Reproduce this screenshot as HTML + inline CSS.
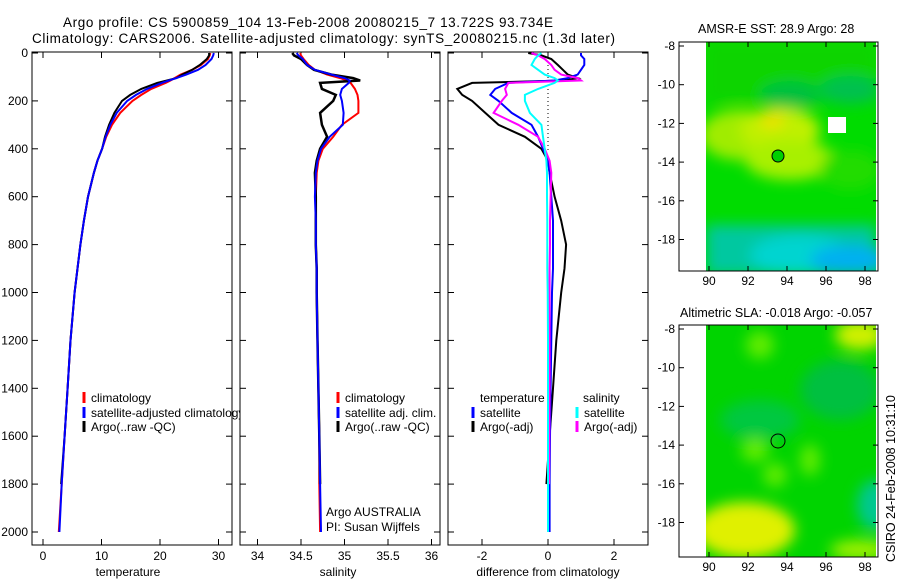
<!DOCTYPE html>
<html><head><meta charset="utf-8">
<style>
body{margin:0;background:#fff;}
svg{display:block;font-family:"Liberation Sans",sans-serif;}
text{fill:#000;}
</style></head>
<body>
<svg id="fig" width="900" height="580" viewBox="0 0 900 580" xmlns="http://www.w3.org/2000/svg">
<defs>
<filter id="bl" x="-20%" y="-20%" width="140%" height="140%"><feGaussianBlur stdDeviation="7"/></filter>
<clipPath id="m1c"><rect x="706" y="42" width="170" height="229"/></clipPath>
<clipPath id="m2c"><rect x="706" y="325" width="170" height="232"/></clipPath>
<clipPath id="p1c"><rect x="32" y="52" width="208" height="493"/></clipPath>
</defs>
<text x="63" y="27" font-size="13.5" textLength="490">Argo profile: CS 5900859_104 13-Feb-2008 20080215_7 13.722S 93.734E</text>
<text x="32" y="43" font-size="13.5" textLength="583">Climatology: CARS2006. Satellite-adjusted climatology: synTS_20080215.nc (1.3d later)</text>

<!-- map 1 -->
<g>
<text x="698" y="33" font-size="12.5">AMSR-E SST: 28.9 Argo: 28</text>
<g clip-path="url(#m1c)">
<rect x="706" y="42" width="170" height="229" fill="#00dc00"/>
<g filter="url(#bl)">
<rect x="706" y="42" width="170" height="60" fill="#10d400"/>
<ellipse cx="790" cy="95" rx="30" ry="14" fill="#00c040"/>
<ellipse cx="850" cy="90" rx="30" ry="14" fill="#00c050"/>
<ellipse cx="740" cy="135" rx="40" ry="25" fill="#a0ec00"/>
<ellipse cx="780" cy="130" rx="40" ry="22" fill="#c0f000"/>
<ellipse cx="772" cy="120" rx="12" ry="8" fill="#f0e000"/>
<ellipse cx="790" cy="160" rx="45" ry="20" fill="#a8f000"/>
<ellipse cx="850" cy="170" rx="30" ry="20" fill="#20dc00"/>
<rect x="706" y="225" width="170" height="50" fill="#00c8a0"/>
<ellipse cx="800" cy="255" rx="50" ry="20" fill="#00d4d0"/>
<ellipse cx="850" cy="260" rx="40" ry="15" fill="#00b0f0"/>
</g>
<rect x="828" y="117" width="18" height="16" fill="#fff"/>
<circle cx="778" cy="156" r="6" fill="#00d000" stroke="#000"/>
</g>
<rect x="679" y="42" width="199" height="229" fill="none" stroke="#000"/>
</g>

<!-- map 2 -->
<g>
<text x="680" y="317" font-size="12.5">Altimetric SLA: -0.018 Argo: -0.057</text>
<g clip-path="url(#m2c)">
<rect x="706" y="325" width="170" height="232" fill="#00d400"/>
<g filter="url(#bl)">
<ellipse cx="760" cy="345" rx="14" ry="14" fill="#60ec00"/>
<ellipse cx="860" cy="335" rx="25" ry="15" fill="#d0f000"/>
<ellipse cx="840" cy="390" rx="40" ry="30" fill="#00c040"/>
<ellipse cx="760" cy="420" rx="40" ry="20" fill="#00c840"/>
<ellipse cx="755" cy="450" rx="14" ry="12" fill="#60ec00"/>
<ellipse cx="775" cy="475" rx="12" ry="12" fill="#60ec00"/>
<ellipse cx="810" cy="460" rx="10" ry="16" fill="#60ec00"/>
<ellipse cx="875" cy="505" rx="18" ry="25" fill="#00c890"/>
<ellipse cx="745" cy="530" rx="50" ry="28" fill="#e0f000"/>
<ellipse cx="860" cy="550" rx="30" ry="10" fill="#a0f000"/>
</g>
<circle cx="778" cy="441" r="7" fill="none" stroke="#000"/>
</g>
<rect x="679" y="325" width="199" height="232" fill="none" stroke="#000"/>
</g>

<text transform="translate(895,562) rotate(-90)" font-size="12.5">CSIRO 24-Feb-2008 10:31:10</text>
<g id="axes"></g>
</svg>
<script>
const depths=[0,10,25,50,70,90,105,115,125,150,175,200,250,300,350,400,450,500,600,700,800,900,1000,1200,1400,1600,1800,2000];
const tempClim=[28.6,28.5,28.2,27,25.5,23.5,22.5,21.8,21,18.5,16.8,15.3,13.2,11.8,10.8,10.1,9.3,8.7,7.7,7,6.4,5.9,5.4,4.7,4.2,3.7,3.2,2.7];
const tempSat=[29.2,29.1,28.8,27.8,26.5,24.5,22.8,21.5,20.3,17.8,15.9,14.4,12.6,11.5,10.7,10.1,9.3,8.7,7.7,7,6.4,5.9,5.4,4.7,4.2,3.7,3.2,2.8];
const tempArgo=[28.4,28.4,28,26.8,25.5,23.8,22.8,21.2,19.5,16.8,14.9,13.5,12.2,11.3,10.6,10.1,9.3,8.7,7.7,7,6.4,5.9,5.4,4.7,4.2,3.7,3.1,2.8];
const salClim=[34.49,34.5,34.53,34.59,34.66,34.8,34.95,35.03,35.07,35.12,35.15,35.16,35.16,34.97,34.87,34.75,34.7,34.68,34.67,34.67,34.67,34.68,34.68,34.69,34.7,34.71,34.71,34.72];
const salSat=[34.45,34.47,34.52,34.57,34.66,34.85,35.0,35.06,35.05,34.97,34.95,34.97,34.99,34.98,34.83,34.73,34.69,34.67,34.66,34.67,34.67,34.68,34.68,34.69,34.7,34.71,34.72,34.73];
const salArgo=[34.40,34.42,34.5,34.57,34.65,34.85,35.1,35.18,34.72,34.74,34.9,34.87,34.72,34.74,34.8,34.72,34.68,34.66,34.67,34.67,34.67,34.68,34.68,34.69,34.7,34.71,34.72,34.72];
const dTempArgo=[-0.6,-0.2,0.1,0.3,0.45,0.6,0.9,0.5,-2.3,-2.75,-2.6,-2.3,-1.9,-1.5,-0.7,-0.2,0,0.05,0.2,0.4,0.55,0.5,0.4,0.25,0.15,0.05,-0.05,-0.05];
const dTempSat=[1.0,1.0,1.1,1.1,1.0,0.9,0.6,0.2,-1.2,-1.6,-1.75,-1.5,-1.1,-0.5,-0.3,-0.15,0,0.05,0.1,0.15,0.15,0.15,0.12,0.1,0.08,0.06,0.05,0.05];
const dSalArgo=[-0.5,-0.3,-0.1,0.1,0.2,0.4,0.9,1.0,-1.2,-1.3,-1.25,-1.4,-1.65,-0.9,-0.3,-0.1,0.05,0.1,0.08,0.06,0.06,0.05,0.05,0.05,0.05,0.04,0.03,0.03];
const dSalSat=[-0.2,-0.3,-0.4,-0.5,-0.3,-0.1,0.2,0.3,0.2,-0.3,-0.7,-0.7,-0.55,-0.2,-0.15,-0.1,-0.05,-0.03,-0.03,-0.02,-0.02,-0.02,-0.01,0,0,0,0,0];
const depthTicks=[0,200,400,600,800,1000,1200,1400,1600,1800,2000];
const tempTicks=[0,10,20,30];
const salTicks=[34,34.5,35,35.5,36];
const diffTicks=[-2,0,2];
const lonTicks=[90,92,94,96,98];
const latTicks=[-8,-10,-12,-14,-16,-18];

const NS="http://www.w3.org/2000/svg";
const G=document.getElementById('axes');
function el(tag,attrs,parent){const e=document.createElementNS(NS,tag);for(const k in attrs)e.setAttribute(k,attrs[k]);(parent||G).appendChild(e);return e;}
const yD=d=>53+d*0.2395;
const panels=[
 {name:'temperature',x0:32,x1:232,sx:v=>43+v*5.85,ticks:tempTicks,label:'temperature',lx:128},
 {name:'salinity',x0:240,x1:440,sx:v=>301+(v-34.5)*87,ticks:salTicks,label:'salinity',lx:338},
 {name:'difference',x0:448,x1:648,sx:v=>548+v*33,ticks:diffTicks,label:'difference from climatology',lx:548}
];
panels.forEach((p,i)=>{
 const r=el('rect',{x:p.x0,y:52,width:p.x1-p.x0,height:493,fill:'none',stroke:'#000'});
 
 
 depthTicks.forEach(d=>{
  el('line',{x1:p.x0,x2:p.x0+6,y1:yD(d),y2:yD(d),stroke:'#000'});
  el('line',{x1:p.x1,x2:p.x1-6,y1:yD(d),y2:yD(d),stroke:'#000'});
  if(i===0){const t=el('text',{x:28,y:yD(d)+4,'font-size':12,'text-anchor':'end'});t.textContent=d;
   
   }
 });
 p.ticks.forEach(v=>{
  const x=p.sx(v);
  el('line',{x1:x,x2:x,y1:52,y2:58,stroke:'#000'});
  el('line',{x1:x,x2:x,y1:545,y2:539,stroke:'#000'});
  const t=el('text',{x:x,y:560,'font-size':12,'text-anchor':'middle'});t.textContent=v;
  
  
 });
 const lt=el('text',{x:p.lx,y:576,'font-size':12,'text-anchor':'middle'});lt.textContent=p.label;
 
 
});
function line(vals,p,color,name,w,maxD){
 let pts=[];vals.forEach((v,i)=>{if(maxD===undefined||depths[i]<=maxD)pts.push(p.sx(v).toFixed(1)+','+yD(depths[i]).toFixed(1));});
 const e=el('polyline',{points:pts.join(' '),fill:'none',stroke:color,'stroke-width':w||2});
 
 
}
line(tempClim,panels[0],'#f00','temp-climatology-line');
line(tempArgo,panels[0],'#000','temp-argo-line',2,1950);
line(tempSat,panels[0],'#00f','temp-satellite-line');
line(salClim,panels[1],'#f00','salinity-climatology-line');
line(salArgo,panels[1],'#000','salinity-argo-line',2.5,1950);
line(salSat,panels[1],'#00f','salinity-satellite-line');
el('line',{x1:548,x2:548,y1:53,y2:150,stroke:'#000','stroke-dasharray':'1,3'});
line(dTempArgo,panels[2],'#000','diff-temp-argo-line',2,1800);
line(dTempSat,panels[2],'#00f','diff-temp-satellite-line');
line(dSalArgo,panels[2],'#f0f','diff-salinity-argo-line',2,1800);
line(dSalSat,panels[2],'#0ff','diff-salinity-satellite-line');

// legends
function legend(x,y,color,label,name,clip){
 el('line',{x1:x,x2:x,y1:y-10,y2:y+1,stroke:color,'stroke-width':3});
 const t=el('text',{x:x+7,y:y,'font-size':12});t.textContent=label;
 if(clip)t.setAttribute('clip-path','url(#p1c)');
 
 
}
legend(84,402,'#f00','climatology','temp-legend-climatology');
legend(84,417,'#00f','satellite-adjusted climatology','temp-legend-satellite',true);
legend(84,431,'#000','Argo(..raw -QC)','temp-legend-argo');
legend(338,402,'#f00','climatology','sal-legend-climatology');
legend(338,417,'#00f','satellite adj. clim.','sal-legend-satellite');
legend(338,431,'#000','Argo(..raw -QC)','sal-legend-argo');
[['temperature',480,402],['salinity',583,402]].forEach(a=>{const t=el('text',{x:a[1],y:a[2],'font-size':12});t.textContent=a[0];
 
 });
legend(473,417,'#00f','satellite','diff-legend-temp-satellite');
legend(473,431,'#000','Argo(-adj)','diff-legend-temp-argo');
legend(577,417,'#0ff','satellite','diff-legend-sal-satellite');
legend(577,431,'#f0f','Argo(-adj)','diff-legend-sal-argo');
[['Argo AUSTRALIA',516],['PI: Susan Wijffels',531]].forEach(a=>{const t=el('text',{x:326,y:a[1],'font-size':12});t.textContent=a[0];
 
 });

// map axes
[[42,271,46],[325,557,329]].forEach((m,mi)=>{
 const lx=l=>709+(l-90)*19.5;
 const ly=l=>m[2]+(-8-l)*19.35;
 lonTicks.forEach(l=>{
  el('line',{x1:lx(l),x2:lx(l),y1:m[1],y2:m[1]-5,stroke:'#000'});
  el('line',{x1:lx(l),x2:lx(l),y1:m[0],y2:m[0]+5,stroke:'#000'});
  const t=el('text',{x:lx(l),y:m[1]+14,'font-size':12,'text-anchor':'middle'});t.textContent=l;
  
  
 });
 latTicks.forEach(l=>{
  el('line',{x1:679,x2:684,y1:ly(l),y2:ly(l),stroke:'#000'});
  el('line',{x1:878,x2:873,y1:ly(l),y2:ly(l),stroke:'#000'});
  const t=el('text',{x:675,y:ly(l)+4,'font-size':12,'text-anchor':'end'});t.textContent=l;
  
  
 });
});
</script>
</body></html>
